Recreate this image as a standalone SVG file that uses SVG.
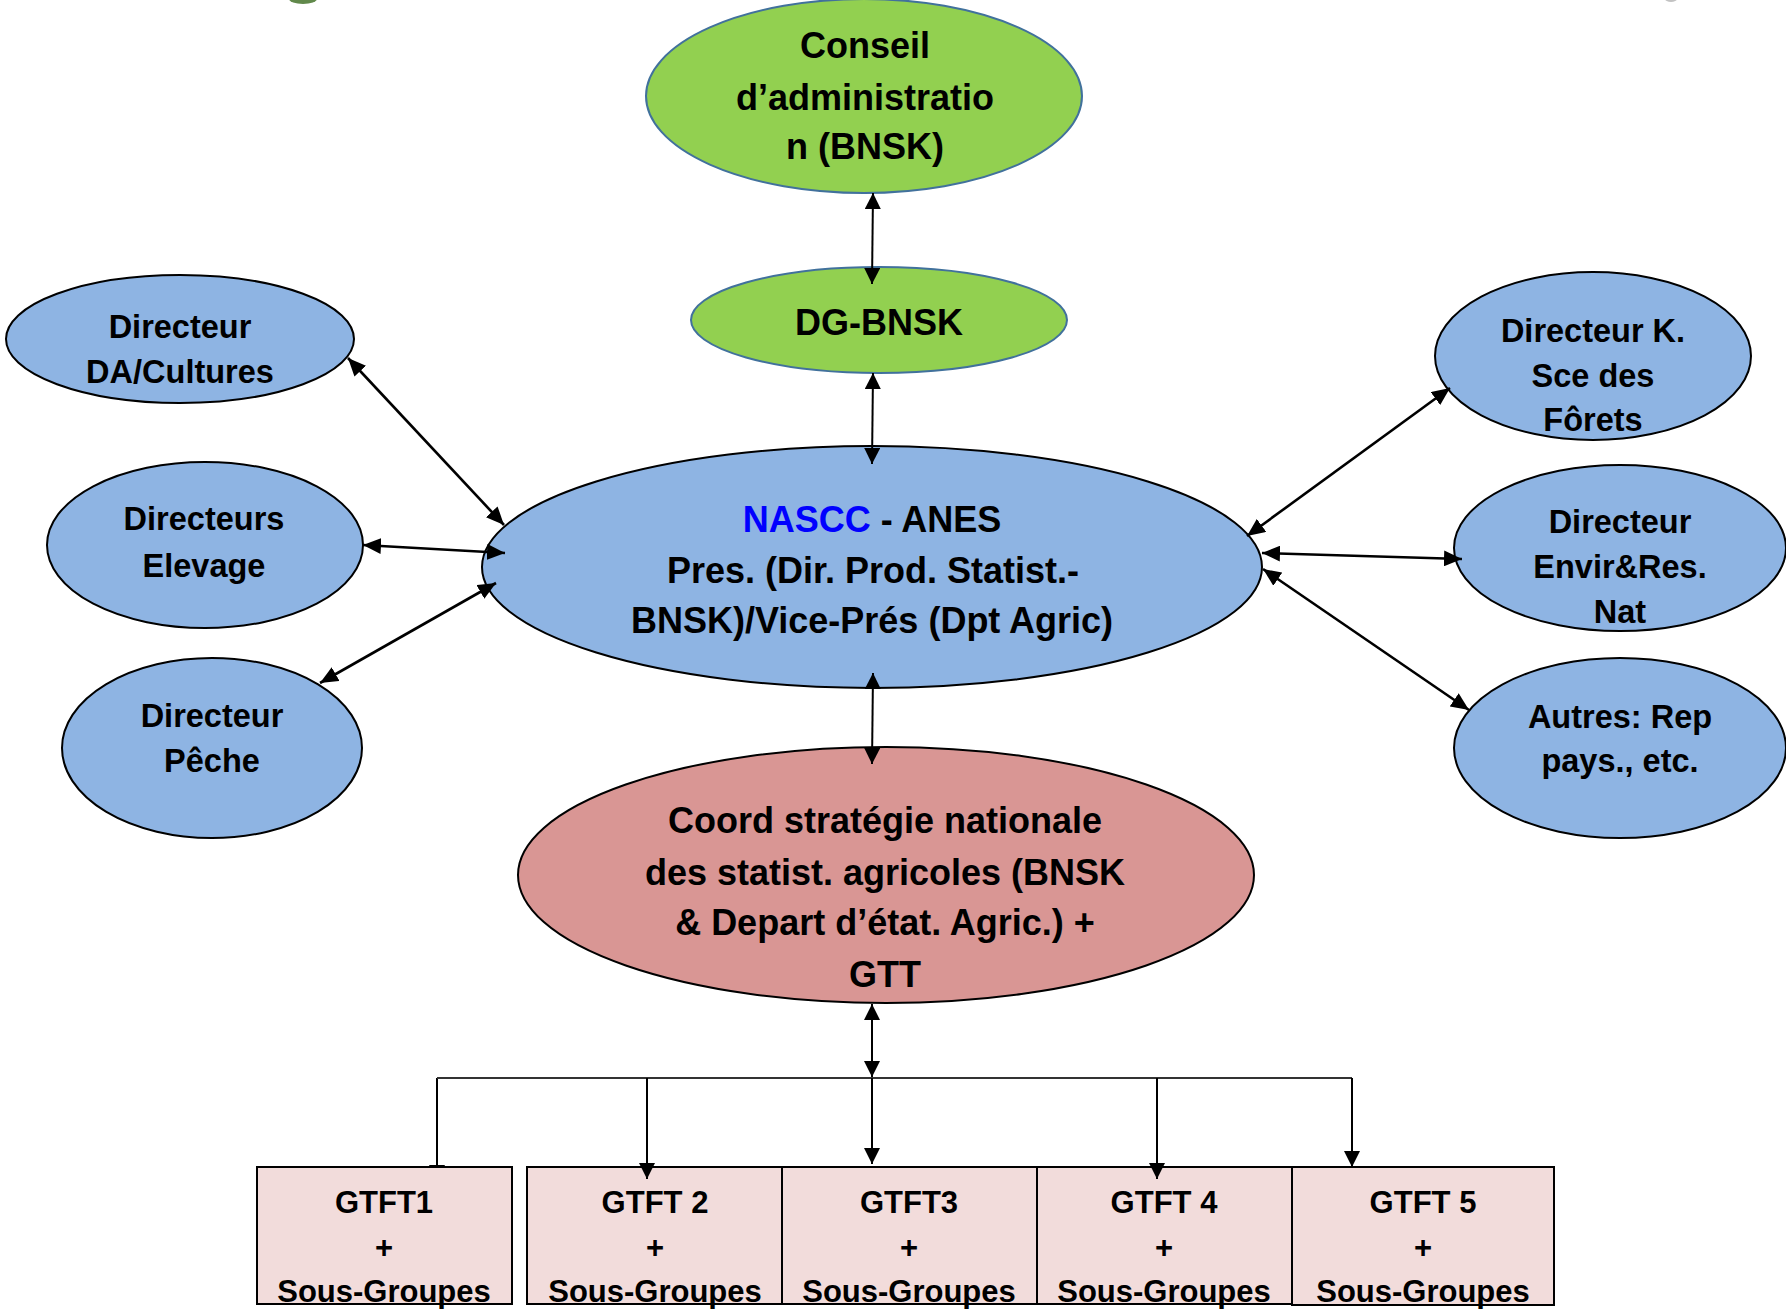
<svg xmlns="http://www.w3.org/2000/svg" width="1786" height="1312" viewBox="0 0 1786 1312">
<style>
  text { font-family: "Liberation Sans", Arial, sans-serif; font-weight: bold; fill: #000; text-anchor: middle; }
  .big { font-size: 36px; }
  .small { font-size: 32.5px; }
  .box { font-size: 31px; }
  .green { fill: #92D050; stroke: #41719C; stroke-width: 2; }
  .blue { fill: #8EB4E3; stroke: #000; stroke-width: 2; }
  .red { fill: #D99694; stroke: #000; stroke-width: 2; }
  .gt { fill: #F2DCDB; stroke: #000; stroke-width: 2; }
  .con { fill: none; stroke: #000; stroke-width: 2; }
  .diag { fill: none; stroke: #000; stroke-width: 2.6; }
  .bus { fill: none; stroke: #333; stroke-width: 2; }
</style>
<defs>
  <marker id="ah" markerUnits="userSpaceOnUse" markerWidth="16" markerHeight="16" refX="16" refY="8" orient="auto-start-reverse" viewBox="0 0 16 16">
    <path d="M0,0 L16,8 L0,16 z" fill="#000"/>
  </marker>
  <marker id="ahd" markerUnits="userSpaceOnUse" markerWidth="18" markerHeight="16" refX="18" refY="8" orient="auto-start-reverse" viewBox="0 0 18 16">
    <path d="M0,0 L18,8 L0,16 z" fill="#000"/>
  </marker>
  <clipPath id="clip1"><rect x="400" y="1060" width="80" height="108"/></clipPath>
</defs>
<rect x="0" y="0" width="1786" height="1312" fill="#fff"/>
<ellipse cx="303" cy="-1" rx="14" ry="5" fill="#3a6b1e" opacity="0.8"/>
<ellipse cx="1671" cy="-1" rx="6" ry="3" fill="#999" opacity="0.6"/>

<g id="conseil">
  <ellipse class="green" cx="864" cy="96" rx="218" ry="97"/>
  <text class="big" x="865" y="58">Conseil</text>
  <text class="big" x="865" y="110">d’administratio</text>
  <text class="big" x="865" y="159">n (BNSK)</text>
</g>
<g id="dg">
  <ellipse class="green" cx="879" cy="320" rx="188" ry="53"/>
  <text class="big" x="879" y="335">DG-BNSK</text>
</g>
<g id="da">
  <ellipse class="blue" cx="180" cy="339" rx="174" ry="64"/>
  <text class="small" x="180" y="338">Directeur</text>
  <text class="small" x="180" y="383">DA/Cultures</text>
</g>
<g id="forets">
  <ellipse class="blue" cx="1593" cy="356" rx="158" ry="84"/>
  <text class="small" x="1593" y="342">Directeur K.</text>
  <text class="small" x="1593" y="387">Sce des</text>
  <text class="small" x="1593" y="431">Fôrets</text>
</g>
<g id="nascc">
  <ellipse class="blue" cx="872" cy="567" rx="390" ry="121"/>
  <text class="big" x="872" y="532"><tspan fill="#0000FF">NASCC</tspan> - ANES</text>
  <text class="big" x="873" y="583">Pres. (Dir. Prod. Statist.-</text>
  <text class="big" x="872" y="633">BNSK)/Vice-Prés (Dpt Agric)</text>
</g>
<g id="elevage">
  <ellipse class="blue" cx="205" cy="545" rx="158" ry="83"/>
  <text class="small" x="204" y="530">Directeurs</text>
  <text class="small" x="204" y="577">Elevage</text>
</g>
<g id="peche">
  <ellipse class="blue" cx="212" cy="748" rx="150" ry="90"/>
  <text class="small" x="212" y="727">Directeur</text>
  <text class="small" x="212" y="772">Pêche</text>
</g>
<g id="envir">
  <ellipse class="blue" cx="1620" cy="548" rx="166" ry="83"/>
  <text class="small" x="1620" y="533">Directeur</text>
  <text class="small" x="1620" y="578">Envir&amp;Res.</text>
  <text class="small" x="1620" y="623">Nat</text>
</g>
<g id="autres">
  <ellipse class="blue" cx="1620" cy="748" rx="166" ry="90"/>
  <text class="small" x="1620" y="728">Autres: Rep</text>
  <text class="small" x="1620" y="772">pays., etc.</text>
</g>
<g id="coord">
  <ellipse class="red" cx="886" cy="875" rx="368" ry="128"/>
  <text class="big" x="885" y="833">Coord stratégie nationale</text>
  <text class="big" x="885" y="885">des statist. agricoles (BNSK</text>
  <text class="big" x="885" y="935">&amp; Depart d’état. Agric.) +</text>
  <text class="big" x="885" y="987">GTT</text>
</g>

<g id="connectors-under">
  <line class="con" x1="437" y1="1078" x2="437" y2="1181" marker-end="url(#ah)" clip-path="url(#clip1)"/>
</g>

<g id="gtft1">
  <rect class="gt" x="257" y="1167" width="255" height="137"/>
  <text class="box" x="384" y="1213">GTFT1</text>
  <text class="box" x="384" y="1258">+</text>
  <text class="box" x="384" y="1302">Sous-Groupes</text>
</g>
<g id="gtft2">
  <rect class="gt" x="527" y="1167" width="255" height="137"/>
  <text class="box" x="655" y="1213">GTFT 2</text>
  <text class="box" x="655" y="1258">+</text>
  <text class="box" x="655" y="1302">Sous-Groupes</text>
</g>
<g id="gtft3">
  <rect class="gt" x="782" y="1167" width="255" height="137"/>
  <text class="box" x="909" y="1213">GTFT3</text>
  <text class="box" x="909" y="1258">+</text>
  <text class="box" x="909" y="1302">Sous-Groupes</text>
</g>
<g id="gtft4">
  <rect class="gt" x="1037" y="1167" width="255" height="137"/>
  <text class="box" x="1164" y="1213">GTFT 4</text>
  <text class="box" x="1164" y="1258">+</text>
  <text class="box" x="1164" y="1302">Sous-Groupes</text>
</g>
<g id="gtft5">
  <rect class="gt" x="1292" y="1167" width="262" height="138"/>
  <text class="box" x="1423" y="1213">GTFT 5</text>
  <text class="box" x="1423" y="1258">+</text>
  <text class="box" x="1423" y="1302">Sous-Groupes</text>
</g>

<g id="connectors">
  <line class="con" x1="873" y1="193" x2="872" y2="284" marker-start="url(#ah)" marker-end="url(#ah)"/>
  <line class="con" x1="873" y1="373" x2="872" y2="464" marker-start="url(#ah)" marker-end="url(#ah)"/>
  <line class="con" x1="873" y1="673" x2="872" y2="764" marker-start="url(#ah)" marker-end="url(#ah)"/>
  <line class="diag" x1="348" y1="358" x2="504" y2="525" marker-start="url(#ahd)" marker-end="url(#ahd)"/>
  <line class="diag" x1="363" y1="545" x2="505" y2="553" marker-start="url(#ahd)" marker-end="url(#ahd)"/>
  <line class="diag" x1="320" y1="683" x2="496" y2="583" marker-start="url(#ahd)" marker-end="url(#ahd)"/>
  <line class="diag" x1="1450" y1="388" x2="1247" y2="536" marker-start="url(#ahd)" marker-end="url(#ahd)"/>
  <line class="diag" x1="1262" y1="553" x2="1462" y2="559" marker-start="url(#ahd)" marker-end="url(#ahd)"/>
  <line class="diag" x1="1263" y1="569" x2="1469" y2="710" marker-start="url(#ahd)" marker-end="url(#ahd)"/>
  <line class="con" x1="872" y1="1004" x2="872" y2="1077" marker-start="url(#ah)" marker-end="url(#ah)"/>
  <line class="bus" x1="437" y1="1078" x2="1352" y2="1078"/>
  <line class="con" x1="647" y1="1078" x2="647" y2="1179" marker-end="url(#ah)"/>
  <line class="con" x1="872" y1="1078" x2="872" y2="1164" marker-end="url(#ah)"/>
  <line class="con" x1="1157" y1="1078" x2="1157" y2="1179" marker-end="url(#ah)"/>
  <line class="con" x1="1352" y1="1078" x2="1352" y2="1167" marker-end="url(#ah)"/>
</g>
</svg>
